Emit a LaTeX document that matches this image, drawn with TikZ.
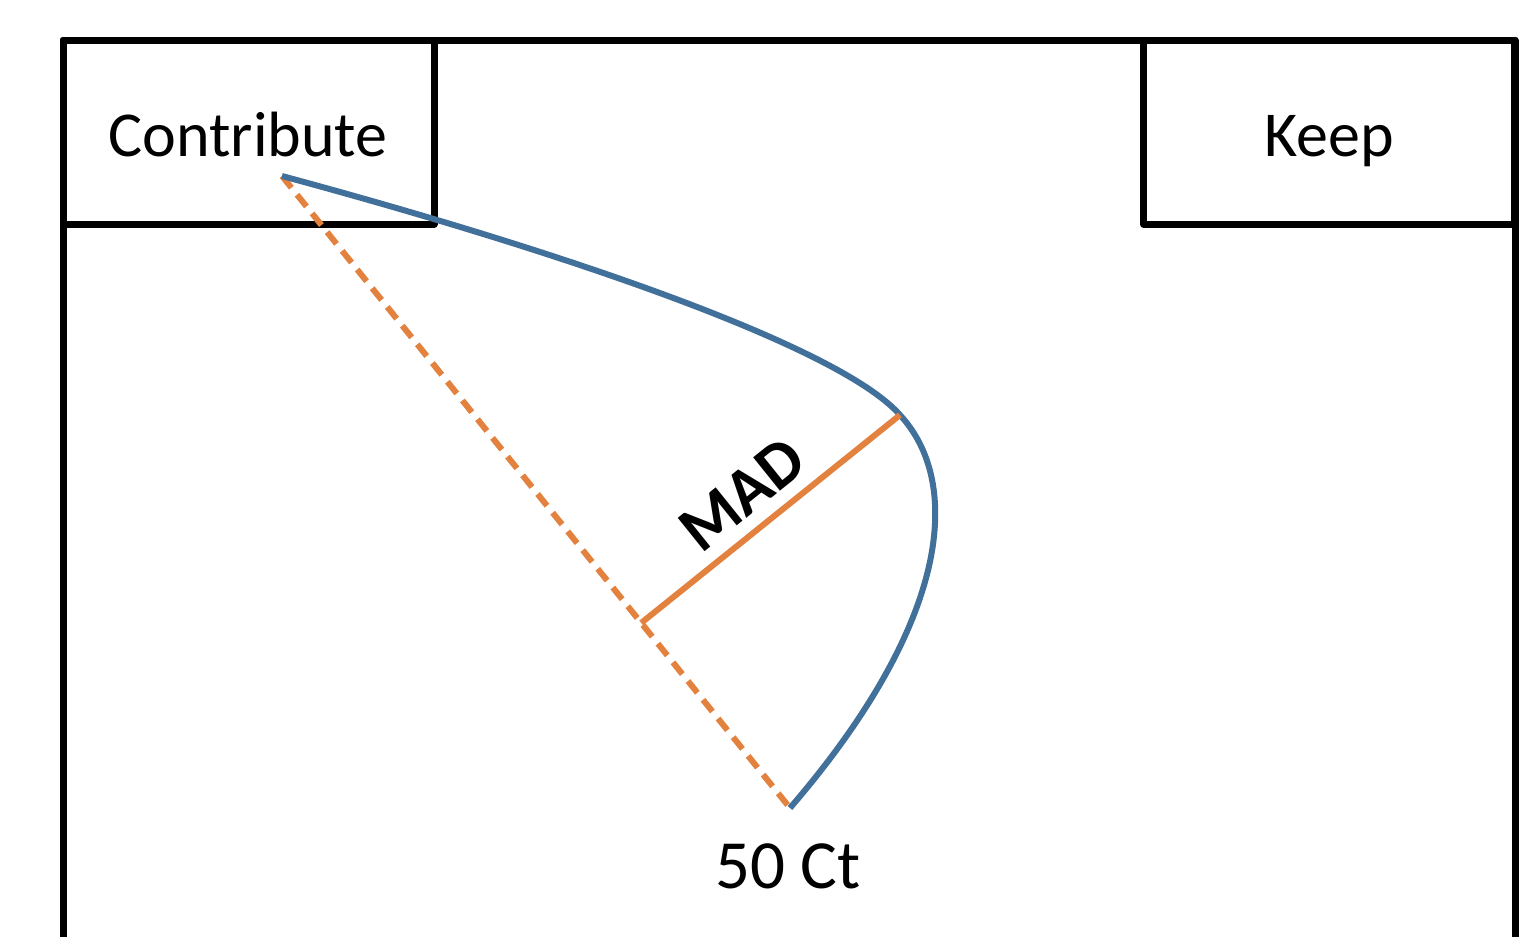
\documentclass[tikz,border=0pt]{standalone}
\usepackage{fontspec}
\setmainfont{Carlito}
\usetikzlibrary{calc}
\definecolor{curveblue}{HTML}{41709A}
\definecolor{madorange}{HTML}{E3823F}
\begin{document}
\begin{tikzpicture}[x=1pt,y=-1pt,
  frame/.style={draw=black, line width=7pt, line join=round, line cap=round},
  labelbox/.style={frame, rectangle, inner sep=0pt},
  labeltext/.style={anchor=base, inner sep=0pt, font=\fontsize{64}{76}\selectfont},
  spread/.style={draw=curveblue, line width=6pt},
  baseline dashes/.style={draw=madorange, line width=6pt, dash pattern=on 15pt off 9pt},
  madline/.style={draw=madorange, line width=6pt},
  madtext/.style={anchor=base, inner sep=0pt, font=\fontsize{66}{78}\selectfont\bfseries}]
\useasboundingbox (0,0) rectangle (1521,937);

% outer frame, open at the bottom
\draw[frame] (63,945) -- (63,40) -- (1515,40) -- (1515,945);

% corner boxes
\node[labelbox, minimum width=371pt, minimum height=184pt] (contribbox) at (248.5,132) {};
\node[labelbox, minimum width=371pt, minimum height=184pt] (keepbox) at (1329,132) {};
\node[labeltext] (contrib) at (248,156) {Contribute};
\node[labeltext] (keep) at (1329,156) {Keep};

% key points
\coordinate (start) at (282,176);
\coordinate (target) at (790,808);
\coordinate (apex) at (900,415);
\coordinate (foot) at ($(start)!(apex)!(target)$);

% straight reference and the bowed curve
\draw[baseline dashes] (start) -- (target);
\draw[spread] (start) .. controls (600,262) and (845,352) .. (apex)
              .. controls (962,482) and (952,620) .. (target);

% distance from the straight line to the curve
\draw[madline] (foot) -- (apex);
\coordinate (foot2) at ($(foot)!16pt!90:(apex)$);
\coordinate (apex2) at ($(apex)!16pt!-90:(foot)$);
\path (foot2) -- node[pos=0.48, sloped, madtext] (mad) {MAD} (apex2);

\node[labeltext, font=\fontsize{69}{82}\selectfont] (fifty) at (788,888) {50 Ct};
\end{tikzpicture}
\end{document}
